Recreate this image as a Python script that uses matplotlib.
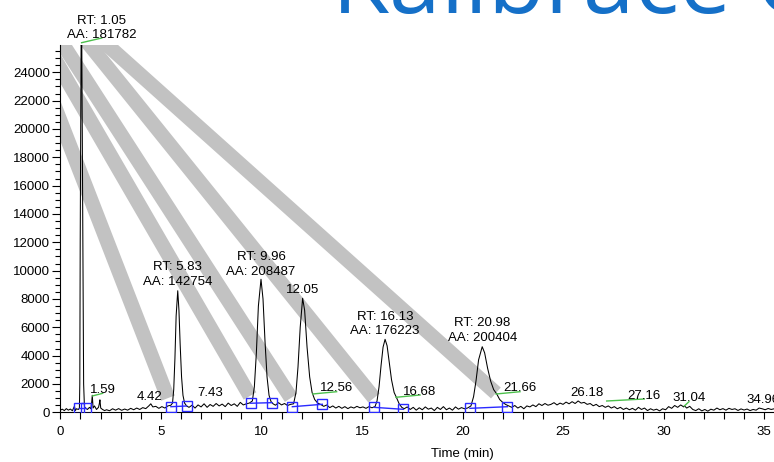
import matplotlib
matplotlib.use("Agg")
import matplotlib.pyplot as plt
from matplotlib.ticker import MultipleLocator

plt.rcParams["font.family"] = ["Liberation Sans", "DejaVu Sans"]
plt.rcParams["font.size"] = 9.5

# ---- chromatogram trace (time in min, detector signal) ----
time_min = [
    0.00, 0.10, 0.20, 0.30, 0.40, 0.50, 0.60, 0.70, 0.75, 0.80, 0.90,
    0.95, 0.97, 0.99, 1.05, 1.12, 1.16, 1.20,
    1.25, 1.35, 1.45, 1.52, 1.56, 1.59, 1.63, 1.70, 1.80, 1.90, 1.94, 1.97, 2.01, 2.10, 2.20,
    2.30, 2.45, 2.60, 2.75, 2.90, 3.05, 3.20, 3.35, 3.50, 3.65, 3.80, 3.95, 4.10, 4.25, 4.40,
    4.50, 4.60, 4.75, 4.90, 5.05, 5.20, 5.35, 5.50,
    5.58, 5.64, 5.70, 5.76, 5.84, 5.90, 5.96, 6.03, 6.10, 6.18, 6.28,
    6.40, 6.55, 6.70, 6.85, 7.00, 7.15, 7.30, 7.45, 7.60, 7.75, 7.90, 8.05, 8.20, 8.35, 8.50,
    8.65, 8.80, 8.95, 9.10, 9.25, 9.40,
    9.55, 9.65, 9.75, 9.85, 9.98, 10.08, 10.18, 10.28, 10.38, 10.48, 10.58,
    10.70, 10.85, 11.00, 11.15, 11.30, 11.45,
    11.60, 11.72, 11.82, 11.93, 12.05, 12.15, 12.27, 12.40, 12.52, 12.65, 12.80, 12.95,
    13.10, 13.25, 13.40, 13.55, 13.70, 13.85, 14.00, 14.15, 14.30, 14.45, 14.60, 14.75, 14.90,
    15.05, 15.20, 15.35, 15.50,
    15.65, 15.75, 15.85, 15.95, 16.05, 16.15, 16.25, 16.35, 16.47, 16.60, 16.73, 16.85, 16.98,
    17.10, 17.25, 17.40, 17.55, 17.70, 17.85, 18.00, 18.15, 18.30, 18.45, 18.60, 18.75, 18.90,
    19.05, 19.20, 19.35, 19.50, 19.65, 19.80, 19.95, 20.10, 20.25,
    20.42, 20.55, 20.67, 20.80, 20.98, 21.10, 21.25, 21.40, 21.55, 21.70, 21.85, 22.00, 22.15, 22.30,
    22.45, 22.60, 22.75, 22.90, 23.05, 23.20, 23.35, 23.50, 23.65, 23.80, 23.95, 24.10, 24.25,
    24.40, 24.55, 24.70, 24.85, 25.00, 25.15, 25.30, 25.45, 25.60, 25.75, 25.90, 26.05, 26.20,
    26.35, 26.50, 26.65, 26.80, 26.95,
    27.10, 27.25, 27.40, 27.55, 27.70, 27.85, 28.00, 28.15, 28.30, 28.45, 28.60, 28.75, 28.90,
    29.05, 29.20, 29.35, 29.50, 29.65, 29.80, 29.95,
    30.10, 30.25, 30.40, 30.55, 30.70, 30.85, 31.00, 31.04, 31.15, 31.30, 31.45,
    31.60, 31.75, 31.90, 32.05, 32.20, 32.35, 32.50, 32.65, 32.80, 32.95, 33.10, 33.25, 33.40,
    33.55, 33.70, 33.85, 34.00, 34.15, 34.30, 34.45, 34.60, 34.75, 34.90, 35.05, 35.20, 35.35, 35.50,
]
signal = [
    150, 220, 120, 260, 150, 230, 110, 420, 120, 250, 200,
    300, 2000, 12000, 31000, 12000, 2000, 400,
    300, 200, 350, 250, 700, 1200, 300, 450, 200, 350, 600, 880, 300, 200, 120,
    180, 110, 250, 150, 260, 140, 230, 150, 280, 180, 300, 200, 330, 260, 450,
    600, 380, 420, 280, 400, 300, 450, 500,
    650, 1600, 3800, 6800, 8580, 7200, 4800, 2500, 1200, 650, 450,
    350, 500, 300, 520, 380, 600, 350, 550, 420, 620, 450, 580, 400, 650, 480,
    600, 420, 700, 520, 600, 650,
    800, 1800, 4200, 7500, 9390, 8000, 5000, 2500, 1200, 750, 600,
    500, 680, 520, 620, 480, 560,
    600, 1400, 3200, 6000, 8050, 7200, 4600, 2500, 1400, 900, 650, 550,
    420, 520, 330, 450, 300, 420, 280, 400, 260, 380, 300, 420, 320,
    380, 280, 400, 320,
    400, 800, 1800, 3300, 4600, 5150, 4700, 3600, 2300, 1400, 1000, 600, 350,
    250, 380, 200, 350, 150, 320, 180, 380, 220, 300, 120, 350, 200,
    400, 180, 300, 150, 380, 220, 330, 250, 300,
    450, 1100, 2200, 3700, 4630, 4200, 3100, 2200, 1600, 1300, 900, 700, 550, 450,
    350, 480, 300, 420, 250, 450, 380, 520, 400, 600, 480, 620, 500,
    560, 680, 520, 650, 560, 720, 600, 750, 620, 800, 650, 700, 560,
    620, 460, 560, 400, 480,
    350, 450, 300, 400, 250, 350, 200, 300, 180, 280, 150, 350, 200,
    300, 120, 250, 150, 220, 100, 250,
    180, 400, 280, 480, 350, 520, 380, 450, 300, 420, 200,
    120, 250, 100, 200, 80, 220, 150, 300, 180, 260, 150, 280, 200,
    250, 130, 240, 160, 230, 120, 200, 150, 300, 250, 180, 270, 200, 250,
]

# ---- integration limits (peak start / end) ----
peak_start_t = [0.95, 5.50, 9.47, 11.54, 15.60, 20.37]
peak_start_v = [280, 395, 640, 395, 350, 280]
peak_end_t = [1.28, 6.28, 10.53, 13.03, 17.06, 22.23]
peak_end_v = [280, 445, 680, 565, 210, 395]

# ---- peak annotations ----
label_text = [
    "RT: 1.05\nAA: 181782", "1.59", "4.42", "RT: 5.83\nAA: 142754", "7.43",
    "RT: 9.96\nAA: 208487", "12.05", "12.56", "RT: 16.13\nAA: 176223", "16.68",
    "RT: 20.98\nAA: 200404", "21.66", "26.18", "27.16", "31.04", "34.96",
]
# where the annotation is attached on the trace
anchor_t = [1.06, 1.61, 4.42, 5.84, 7.43, 9.98, 12.05, 12.55, 16.15, 16.69,
            20.98, 21.67, 26.18, 27.17, 31.03, 34.96]
anchor_v = [26090, 1158, 870, 8990, 1150, 9700, 8400, 1292, 5480, 1059,
            5040, 1292, 1170, 798, 445, 635]
# text baseline position (end of the leader line)
text_t = [2.06, 2.11, 4.42, 5.84, 7.43, 9.98, 12.05, 13.74, 16.15, 17.89,
          20.98, 22.86, 26.18, 29.04, 31.26, 34.96]
text_v = [26420, 1341, 870, 8990, 1150, 9700, 8400, 1454, 5480, 1221,
          5040, 1454, 1170, 939, 748, 635]

# ---- callout bands overlaid on the chromatogram (start -> end, data units) ----
band_start_t = [-0.015, -0.015, 0.085, 1.377, 2.22]
band_start_v = [20632, 24302, 26068, 26068, 26068]
band_end_t = [5.355, 9.433, 11.472, 15.60, 21.66]
band_end_v = [1003, 1154, 1015, 1015, 1362]

W, H = 774, 462
Y_TOP = 25900
PX_PER_UNIT = 340.0 / 24000
fig = plt.figure(figsize=(W / 100, H / 100), dpi=100)
fig.patch.set_facecolor("white")
ax = fig.add_axes([60.3 / W, 49.7 / H, 804.4 / W, Y_TOP * PX_PER_UNIT / H])
ax.set_xlim(0, 40)
ax.set_ylim(0, Y_TOP)

# bands
for t0, v0, t1, v1 in zip(band_start_t, band_start_v, band_end_t, band_end_v):
    ts = t1 + 1.6 * (t0 - t1)
    vs = v1 + 1.6 * (v0 - v1)
    ax.plot([ts, t1], [vs, v1], color="#c2c2c2", lw=10.5,
            solid_capstyle="butt", zorder=1)

# trace
ax.plot(time_min, signal, color="black", lw=0.75, zorder=3)

# baselines + integration markers
for t0, v0, t1, v1 in zip(peak_start_t, peak_start_v, peak_end_t, peak_end_v):
    ax.plot([t0, t1], [v0, v1], color="#2a2aff", lw=1.0, zorder=4)
ax.plot(peak_start_t + peak_end_t, peak_start_v + peak_end_v, ls="none",
        marker="s", ms=7.0, mfc="none", mec="#2a2aff", mew=1.0, zorder=5)

# annotations
for txt, at, av, tt, tv in zip(label_text, anchor_t, anchor_v, text_t, text_v):
    if (at, av) != (tt, tv):
        ax.plot([at, tt], [av, tv], color="#4cc04c", lw=1.0, zorder=4,
                clip_on=False)
    ax.annotate(txt, xy=(tt, tv), xytext=(0, -2), textcoords="offset points",
                ha="center", va="bottom", fontsize=9.5, linespacing=1.25,
                annotation_clip=False, zorder=6)

# axes styling
for side in ("top", "right"):
    ax.spines[side].set_visible(False)
for side in ("left", "bottom"):
    ax.spines[side].set_linewidth(0.8)
ax.xaxis.set_major_locator(MultipleLocator(5))
ax.xaxis.set_minor_locator(MultipleLocator(1))
ax.yaxis.set_major_locator(MultipleLocator(2000))
ax.yaxis.set_minor_locator(MultipleLocator(500))
ax.tick_params(axis="x", which="both", direction="out", length=5, width=0.8,
               pad=5, labelsize=9.5)
ax.tick_params(axis="y", which="major", direction="out", length=6, width=0.8,
               pad=1.5, labelsize=9.5)
ax.tick_params(axis="y", which="minor", direction="out", length=3.5, width=0.8)
ax.set_xlabel("Time (min)", fontsize=9.5, labelpad=7)

# slide heading, partly outside the canvas
fig.text(332 / W, 1 - 13 / H, "Kalibrace C", color="#1570c8", fontsize=67,
         family="Open Sans", ha="left", va="baseline")

fig.savefig("out.png", dpi=100, facecolor="white")
